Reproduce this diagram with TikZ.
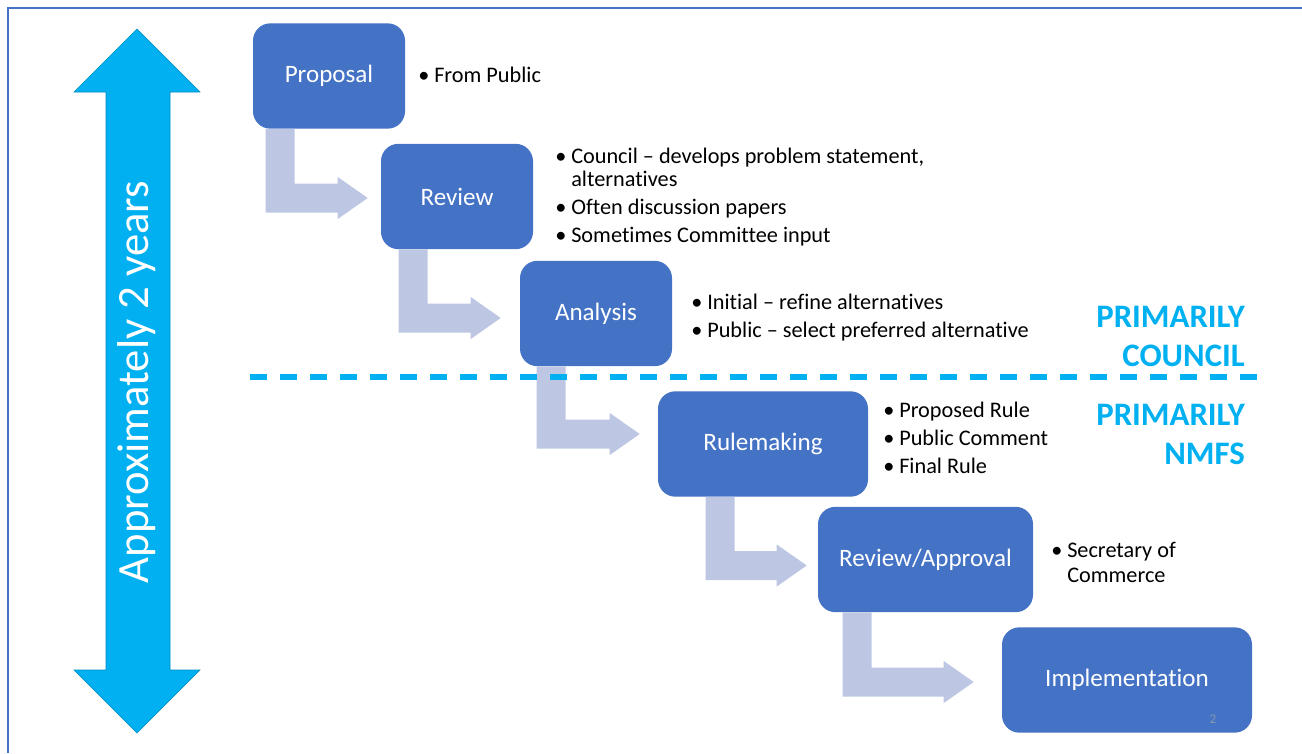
\documentclass[tikz,border=0pt]{standalone}
\usepackage{fontspec}
\setmainfont{Carlito}[Ligatures={TeX,NoCommon}]
\usetikzlibrary{calc}
\definecolor{boxblue}{HTML}{4472C4}
\definecolor{stepgrey}{HTML}{BDC7E3}
\definecolor{skyblue}{HTML}{00B0F0}
\definecolor{pagegrey}{HTML}{8497B0}
\tikzset{
    x=0.75pt, y=-0.75pt,
    stage/.style={rounded corners=13pt, fill=boxblue, text=white, inner sep=0pt,
        minimum height=79pt, font=\fontsize{18.8}{22}\selectfont},
    notes/.style={anchor=base west, inner sep=0pt, font=\fontsize{16.7}{17.25}\selectfont},
    who/.style={anchor=base east, inner sep=0pt, text=skyblue,
        font=\bfseries\fontsize{24.6}{29.5}\selectfont},
    bentshape/.style={fill=stepgrey},
}
\newcommand{\items}[1]{\begin{tabular}[t]{@{}p{12pt}@{}l@{}}#1\end{tabular}}
\newcommand{\itm}{\textbullet&}
% from, to, x offset of shaft, y offset of head, gap before box
\newcommand{\bentarrow}[5]{%
  \fill[bentshape] ($(#1.south west)+(#3,0)$) |- ($(#2.west)+(-30-#5,#4+14.5)$) -- ++(0,6.5)
     -- ($(#2.west)+(-#5,#4)$) -- ($(#2.west)+(-30-#5,#4-21)$) -- ++(0,6.5)
     -| ($(#1.south west)+(#3+29,0)$) -- cycle;}

\begin{document}
\begin{tikzpicture}
    \useasboundingbox (0,0) rectangle (1302,753);
    \draw[boxblue, line width=2.2pt] (8,753) -- (8,8) -- (1302,8);

    % time span
    \fill[skyblue, draw=skyblue!80!black, line width=0.4pt]
        (137,29) -- (200,92) -- (170,92) -- (170,670) -- (200,670) -- (137,733)
        -- (74,670) -- (106,670) -- (106,92) -- (74,92) -- cycle;
    \node[rotate=90, text=white, font=\fontsize{33.5}{40}\selectfont] (span) at (137,382)
        {Approximately 2 years};

    % stages
    \node[stage, minimum width=114pt] (P) at (329,76) {Proposal};
    \node[stage, minimum width=114pt] (R) at (457,196.5) {Review};
    \node[stage, minimum width=114pt] (A) at (596,313.5) {Analysis};
    \node[stage, minimum width=157.5pt] (RM) at (763,444) {Rulemaking};
    \node[stage, minimum width=161.25pt] (RA) at (925.5,559.5) {Review/Approval};
    \node[stage, minimum width=187.5pt] (I) at (1127,680) {Implementation};
    \node[text=pagegrey, font=\fontsize{10}{11}\selectfont] (pg) at (1213,719) {2};

    \bentarrow{P}{R}{13}{1.5}{13}
    \bentarrow{R}{A}{18}{4.5}{19}
    \bentarrow{A}{RM}{17}{-10}{18}
    \bentarrow{RM}{RA}{48}{6}{11}
    \bentarrow{RA}{I}{25}{2}{28}

    % notes
    \node[notes] (nP) at (418,82) {\items{\itm From Public}};
    \node[notes] (nR) at (555,163) {\items{\itm Council -- develops problem statement,\\
        & alternatives\\[3.75pt] \itm Often discussion papers\\[3.75pt]
        \itm Sometimes Committee input}};
    \node[notes] (nA) at (691,309) {\items{\itm Initial -- refine alternatives\\[3.75pt]
        \itm Public -- select preferred alternative}};
    \node[notes] (nRM) at (883,417) {\items{\itm Proposed Rule\\[3.75pt]
        \itm Public Comment\\[3.75pt] \itm Final Rule}};
    \node[notes] (nRA) at (1051,557) {\items{\itm Secretary of\\[2pt] & Commerce}};

    % split between council and NMFS
    \draw[skyblue, line width=3.8pt, dash pattern=on 12.75pt off 9.75pt] (250,377) -- (1262,377);
    \node[who] (council) at (1245,327) {\begin{tabular}[t]{@{}r@{}}PRIMARILY\\COUNCIL\end{tabular}};
    \node[who] (nmfs) at (1245,425) {\begin{tabular}[t]{@{}r@{}}PRIMARILY\\NMFS\end{tabular}};
\end{tikzpicture}
\end{document}
